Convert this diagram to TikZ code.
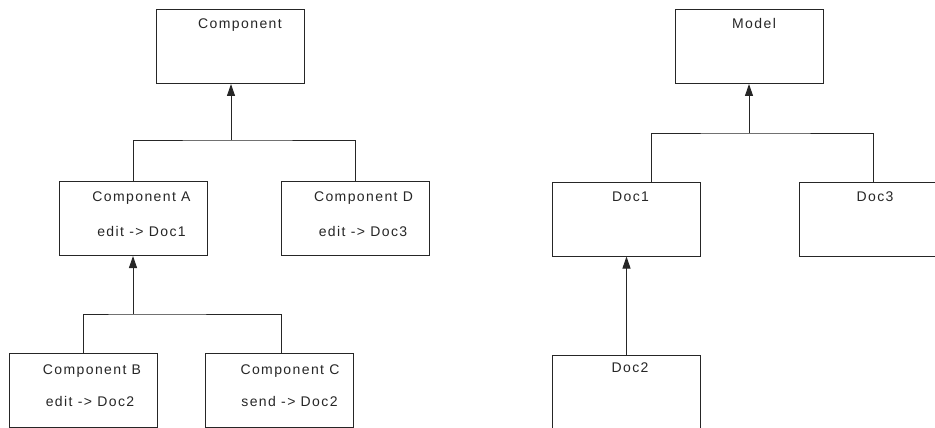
\documentclass[tikz,border=0pt]{standalone}
\usepackage{fontspec}
\setmainfont{Liberation Sans}[LetterSpace=10]
\usetikzlibrary{arrows.meta}
\definecolor{ink}{gray}{0.15}
\tikzset{
  box/.style={draw=ink, line width=1pt, minimum width=148pt, minimum height=74pt, inner sep=0pt},
  txt/.style={anchor=base, inner sep=0pt, text=ink, font=\fontsize{14}{16}\selectfont},
  link/.style={draw=ink, line width=1pt},
  inherit/.style={link, -{Triangle[length=12pt,width=8pt]}}
}
\begin{document}
\begin{tikzpicture}[x=1pt,y=-1pt]
\useasboundingbox (0,0) rectangle (935,428);
\clip (0,0) rectangle (935,428);
\fill[white] (0,0) rectangle (935,428);

% component hierarchy
\node[box] (comp)  at (230.5,46.5) {};
\node[box] (compA) at (133,218.5) {};
\node[box] (compD) at (355,218.5) {};
\node[box] (compB) at (83.5,390) {};
\node[box] (compC) at (279.5,390) {};

\node[txt] (compT)  at (240,29)    {Component};
\node[txt] (compAT) at (141.5,201) {Component A};
\node[txt] (compAE) at (141.5,236) {edit -> Doc1};
\node[txt] (compDT) at (363.5,201) {Component D};
\node[txt] (compDE) at (363,236)   {edit -> Doc3};
\node[txt] (compBT) at (92,374)    {Component B};
\node[txt] (compBE) at (90,406)    {edit -> Doc2};
\node[txt] (compCT) at (290,374)   {Component C};
\node[txt] (compCE) at (289.5,406) {send -> Doc2};

\coordinate (busTop) at (231,140);
\coordinate (busLow) at (133,314);
\draw[link] (compA.north) |- (busTop) -| (compD.north);
\draw[inherit] (busTop) -- (comp.south -| busTop);
\draw[link] (compB.north) |- (busLow) -| ([xshift=1.5pt]compC.north);
\draw[inherit] (busLow) -- (compA.south);

% model hierarchy
\node[box] (model) at (749.5,46.5) {};
\node[box] (doc1)  at (626.5,219) {};
\node[box] (doc3)  at (873.5,219) {};
\node[box] (doc2)  at (626.5,392) {};

\node[txt] (modelT) at (754,29)   {Model};
\node[txt] (doc1T)  at (630.5,201) {Doc1};
\node[txt] (doc3T)  at (875,201)  {Doc3};
\node[txt] (doc2T)  at (630,372)  {Doc2};

\coordinate (busRight) at (749,133);
\draw[link] ([xshift=24.5pt]doc1.north) |- (busRight) -| (doc3.north);
\draw[inherit] (busRight) -- (model.south -| busRight);
\draw[inherit] (doc2.north) -- (doc1.south);
\end{tikzpicture}
\end{document}
